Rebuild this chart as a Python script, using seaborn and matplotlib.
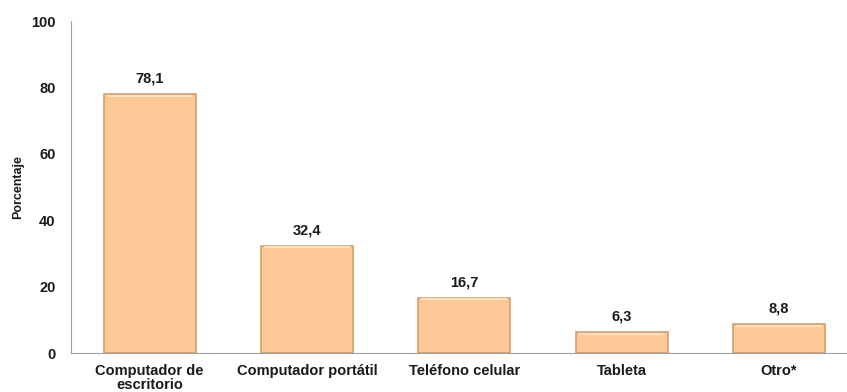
import matplotlib
matplotlib.use("Agg")
import matplotlib.pyplot as plt
import seaborn as sns
import pandas as pd

categorias = ["Computador de\nescritorio", "Computador portátil", "Teléfono celular", "Tableta", "Otro*"]
porcentajes = [78.1, 32.4, 16.7, 6.3, 8.8]
etiquetas = ["78,1", "32,4", "16,7", "6,3", "8,8"]
yticks = [0, 20, 40, 60, 80, 100]

sns.set_style("white")
plt.rcParams["font.family"] = ["Liberation Sans", "DejaVu Sans"]

df = pd.DataFrame({"categoria": categorias, "porcentaje": porcentajes})

fig = plt.figure(figsize=(8.47, 3.92), dpi=100)
ax = fig.add_axes([0.0838, 0.099, 0.9286, 0.847])

sns.barplot(data=df, x="categoria", y="porcentaje", ax=ax, color="#FCC896",
            width=0.585, edgecolor="#D59E6E", linewidth=1.2, saturation=1)

# light highlight along the top of each bar
for p in ax.patches:
    x0 = p.get_x()
    w = p.get_width()
    h = p.get_height()
    ax.plot([x0 + 0.02, x0 + w - 0.02], [h - 0.5, h - 0.5], color="#FFE2C4", lw=1.5,
            solid_capstyle="butt", zorder=5)

for i, (v, t) in enumerate(zip(porcentajes, etiquetas)):
    ax.text(i, v + 2.5, t, ha="center", va="bottom", fontsize=10.5, fontweight="bold", color="#1a1a1a")

ax.set_ylim(0, 100)
ax.set_xlim(-0.5, 4.5)
ax.set_yticks(yticks)
ax.set_yticklabels([str(v) for v in yticks], fontsize=10.5, fontweight="bold", color="#1a1a1a")
ax.set_xticks([i - 0.5 for i in range(6)], minor=True)
ax.set_xticklabels(categorias, fontsize=10.5, fontweight="bold", color="#1a1a1a", linespacing=1.0)
ax.tick_params(axis="x", which="major", length=0, pad=8)
ax.tick_params(axis="x", which="minor", length=4, color="#A0A0A0", direction="out")
ax.tick_params(axis="y", length=4, color="#A0A0A0", direction="out", pad=7)
ax.set_xlabel("")
ax.set_ylabel("Porcentaje", fontsize=9, fontweight="bold", color="#1a1a1a")
ax.yaxis.set_label_coords(-0.059, 0.5)

for s in ["top", "right"]:
    ax.spines[s].set_visible(False)
ax.spines["left"].set_color("#A0A0A0")
ax.spines["bottom"].set_color("#A0A0A0")

fig.savefig("out.png", dpi=100, facecolor="white")
